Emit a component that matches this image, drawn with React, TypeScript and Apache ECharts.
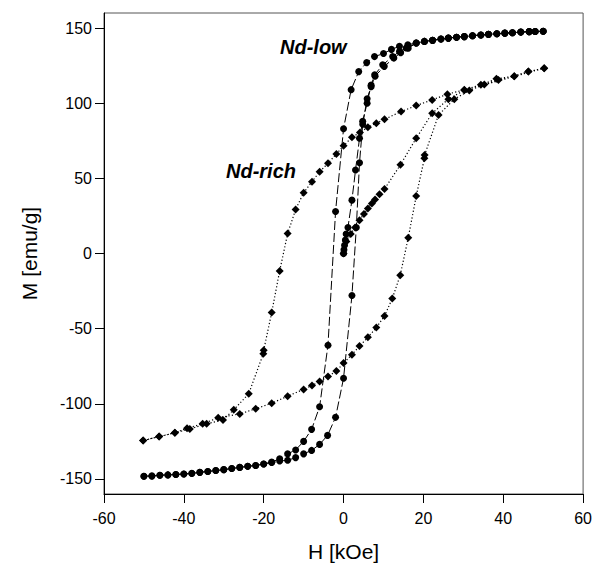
import React, { useEffect, useRef } from "react";
import * as echarts from "echarts";

// ---- Nd-low sample (circles, dashed) ----
const ndLowInitH = [0, 0.1, 0.25, 0.45, 0.65, 1.1, 2.1, 3.0, 4.0, 4.8, 5.9, 6.9, 7.8, 9.8, 12.3, 14.0, 15.7, 18.2, 20.25, 22.3, 24.4, 26.25, 28.3, 30.25, 32.3, 34.4, 36.3, 38.4, 40.4, 42.3, 44.4, 46.5, 48, 50];
const ndLowInitM = [0, 2.5, 5.5, 9, 13, 17.3, 35.5, 55.5, 76.7, 88, 100, 112, 118.9, 125.5, 131, 134.4, 136.7, 140, 141.1, 141.8, 142.7, 143.3, 143.9, 144.3, 144.9, 145.4, 145.8, 146.2, 146.6, 146.9, 147.3, 147.6, 147.7, 147.8];

const ndLowDescH = [50, 48, 46.5, 44.4, 42.3, 40.4, 38.4, 36.3, 34.4, 32.3, 30.25, 28.3, 26.25, 24.4, 22.3, 20.25, 18.2, 16.1, 14, 12, 10, 7.75, 5.8, 3.8, 1.9, 0, -2, -3.9, -6, -8, -10, -12, -14, -16, -18, -20, -22, -24, -26, -28, -30, -32, -34, -36, -38, -40, -42, -44, -46, -48, -50];
const ndLowDescM = [147.8, 147.7, 147.6, 147.3, 146.9, 146.6, 146.2, 145.8, 145.4, 144.9, 144.3, 143.9, 143.3, 142.7, 141.8, 141.1, 140, 138.9, 137.8, 135.8, 133, 131, 127, 121, 109, 83, 28, -61, -102, -117, -125, -130.7, -133.3, -136.5, -138.8, -140, -141, -141.6, -142.3, -143, -143.8, -144.4, -145, -145.6, -146.2, -146.7, -147, -147.3, -147.5, -147.8, -148.2];

const ndLowAscH = [-50, -48, -46, -44, -42, -40, -38, -36, -34, -32, -30, -28, -26, -24, -22, -20, -18, -16, -14, -12, -10, -8, -6, -4, -2, 0, 2.1, 3.2, 4, 4.8, 5.9, 6.9, 7.9, 10.2, 12.6, 14.3, 16.2, 18.2, 20.25, 22.3, 24.4, 26.25, 28.3, 30.25, 32.3, 34.4, 36.3, 38.4, 40.4, 42.3, 44.4, 46.5, 48, 50];
const ndLowAscM = [-148.2, -148.2, -147.5, -147.3, -147, -146.7, -146.4, -145.6, -145, -144.4, -143.8, -143, -142.3, -141.6, -141, -140, -139, -138, -137.6, -135.8, -133.3, -131, -127, -121, -109, -83, -28, 17.3, 60.4, 86, 103, 111, 118, 124.5, 130, 133.5, 136.5, 140, 141.1, 141.8, 142.7, 143.3, 143.9, 144.3, 144.9, 145.4, 145.8, 146.2, 146.6, 146.9, 147.3, 147.6, 147.7, 147.8];

// ---- Nd-rich sample (diamonds, dotted) ----
const ndRichInitH = [0, 0.7, 1.8, 2.9, 4, 5.1, 6.1, 7.1, 7.9, 9, 10.25, 14.25, 18.2, 22.2, 26.25, 30.25];
const ndRichInitM = [0, 8, 13, 17.3, 22.2, 26.2, 30, 33.3, 36, 39.5, 42.9, 59, 76.7, 93.3, 102.7, 108.6];

const ndRichDescH = [50.25, 46.3, 42.75, 38.3, 34.4, 30.25, 26, 22.2, 18.2, 14.4, 10.25, 8.2, 6.1, 4.1, 2.1, 0, -1.8, -3.9, -6, -7.9, -10, -12, -14, -16, -18, -20, -20.1, -23.75, -27.5, -30.2, -34.3, -38.5, -42.25, -46.2, -50.2];
const ndRichDescM = [123.3, 121, 118, 116.2, 112.2, 108.9, 106, 102.2, 98.4, 94.4, 89.3, 86.7, 84, 80.5, 77.3, 71.7, 66.2, 60, 54.4, 47.8, 40.4, 29.3, 13.3, -11.6, -39.3, -64.4, -66.7, -93.3, -104, -110.7, -113.3, -116.7, -119.3, -121.8, -124.4];

const ndRichAscH = [-50.2, -46.2, -42.25, -39.2, -35.3, -31.4, -26, -22, -18, -14, -10, -7.9, -6, -3.9, -1.8, 0, 2.1, 4, 6.1, 8.2, 10.25, 12.2, 14.2, 16.2, 18.2, 20.25, 20.3, 23.8, 27.75, 31.5, 35.25, 38.8, 42.75, 46.3, 50.25];
const ndRichAscM = [-124.4, -121.8, -119.3, -116.3, -113.3, -109.3, -106.7, -103.3, -99.6, -94.9, -90.4, -87.8, -85.1, -81.8, -78.2, -72.9, -67.3, -61.6, -55.8, -49.3, -41.6, -30, -14.4, 10.4, 38.2, 63.3, 65.5, 92.2, 102.7, 108.4, 112.5, 115.5, 118, 121, 123.3];

// ---- axes ----
const xTicks = [-60, -40, -20, 0, 20, 40, 60];
const yTicks = [-150, -100, -50, 0, 50, 100, 150];
const labels = ["Nd-low", "Nd-rich"];

const zip = (hs: number[], ms: number[]) => hs.map((h, i) => [h, ms[i]]);

const FONT = "'Liberation Sans', Arial, Helvetica, sans-serif";

export default function App() {
  const ref = useRef<HTMLDivElement>(null);
  useEffect(() => {
    if (!ref.current) return;
    const chart = echarts.init(ref.current, undefined, { renderer: "svg" });
    const ndLow = [
      ...zip(ndLowInitH, ndLowInitM),
      ...zip(ndLowDescH, ndLowDescM),
      ...zip(ndLowAscH, ndLowAscM),
    ];
    const ndRich = [
      ...zip(ndRichInitH, ndRichInitM),
      ...zip(ndRichDescH, ndRichDescM),
      ...zip(ndRichAscH, ndRichAscM),
    ];
    chart.setOption({
      animation: false,
      backgroundColor: "#fff",
      grid: {
        left: 104,
        top: 13,
        width: 480,
        height: 481,
        show: true,
        borderColor: "#555",
        borderWidth: 1,
        backgroundColor: "transparent",
      },
      xAxis: {
        type: "value",
        min: -60,
        max: 60,
        interval: 20,
        name: "H [kOe]",
        nameLocation: "middle",
        nameGap: 47,
        nameTextStyle: { fontFamily: FONT, fontSize: 21, color: "#000" },
        axisLine: { show: true, onZero: false, lineStyle: { color: "#000", width: 1 } },
        axisTick: { show: true, inside: false, length: 9, lineStyle: { color: "#000" } },
        axisLabel: { margin: 16, fontFamily: FONT, fontSize: 16, color: "#000" },
        splitLine: { show: false },
      },
      yAxis: {
        type: "value",
        min: -160,
        max: 160,
        name: "M [emu/g]",
        nameLocation: "middle",
        nameGap: 64,
        nameTextStyle: { fontFamily: FONT, fontSize: 21, color: "#000" },
        axisLine: { show: true, onZero: false, lineStyle: { color: "#000", width: 1 } },
        axisTick: { show: true, inside: false, length: 9, customValues: yTicks, lineStyle: { color: "#000" } },
        axisLabel: { margin: 12, customValues: yTicks, fontFamily: FONT, fontSize: 16, color: "#000" },
        splitLine: { show: false },
      },
      series: [
        {
          name: labels[0],
          type: "line",
          data: ndLow,
          symbol: "circle",
          symbolSize: 7,
          showSymbol: true,
          itemStyle: { color: "#000" },
          lineStyle: { color: "#000", width: 1, type: [9, 3] },
          z: 3,
        },
        {
          name: labels[1],
          type: "line",
          data: ndRich,
          symbol: "diamond",
          symbolSize: 8,
          showSymbol: true,
          itemStyle: { color: "#000" },
          lineStyle: { color: "#000", width: 1.2, type: [1.2, 2.2] },
          z: 2,
        },
      ],
      graphic: [
        {
          type: "text",
          left: 280,
          top: 37,
          style: {
            text: labels[0],
            fontFamily: FONT,
            fontSize: 20,
            fontWeight: "bold",
            fontStyle: "italic",
            fill: "#000",
          },
        },
        {
          type: "text",
          left: 226,
          top: 161,
          style: {
            text: labels[1],
            fontFamily: FONT,
            fontSize: 20,
            fontWeight: "bold",
            fontStyle: "italic",
            fill: "#000",
          },
        },
      ],
    });
    return () => chart.dispose();
  }, []);
  return (
    <div
      ref={ref}
      style={{ position: "fixed", left: 0, top: 0, width: 595, height: 571 }}
    />
  );
}
